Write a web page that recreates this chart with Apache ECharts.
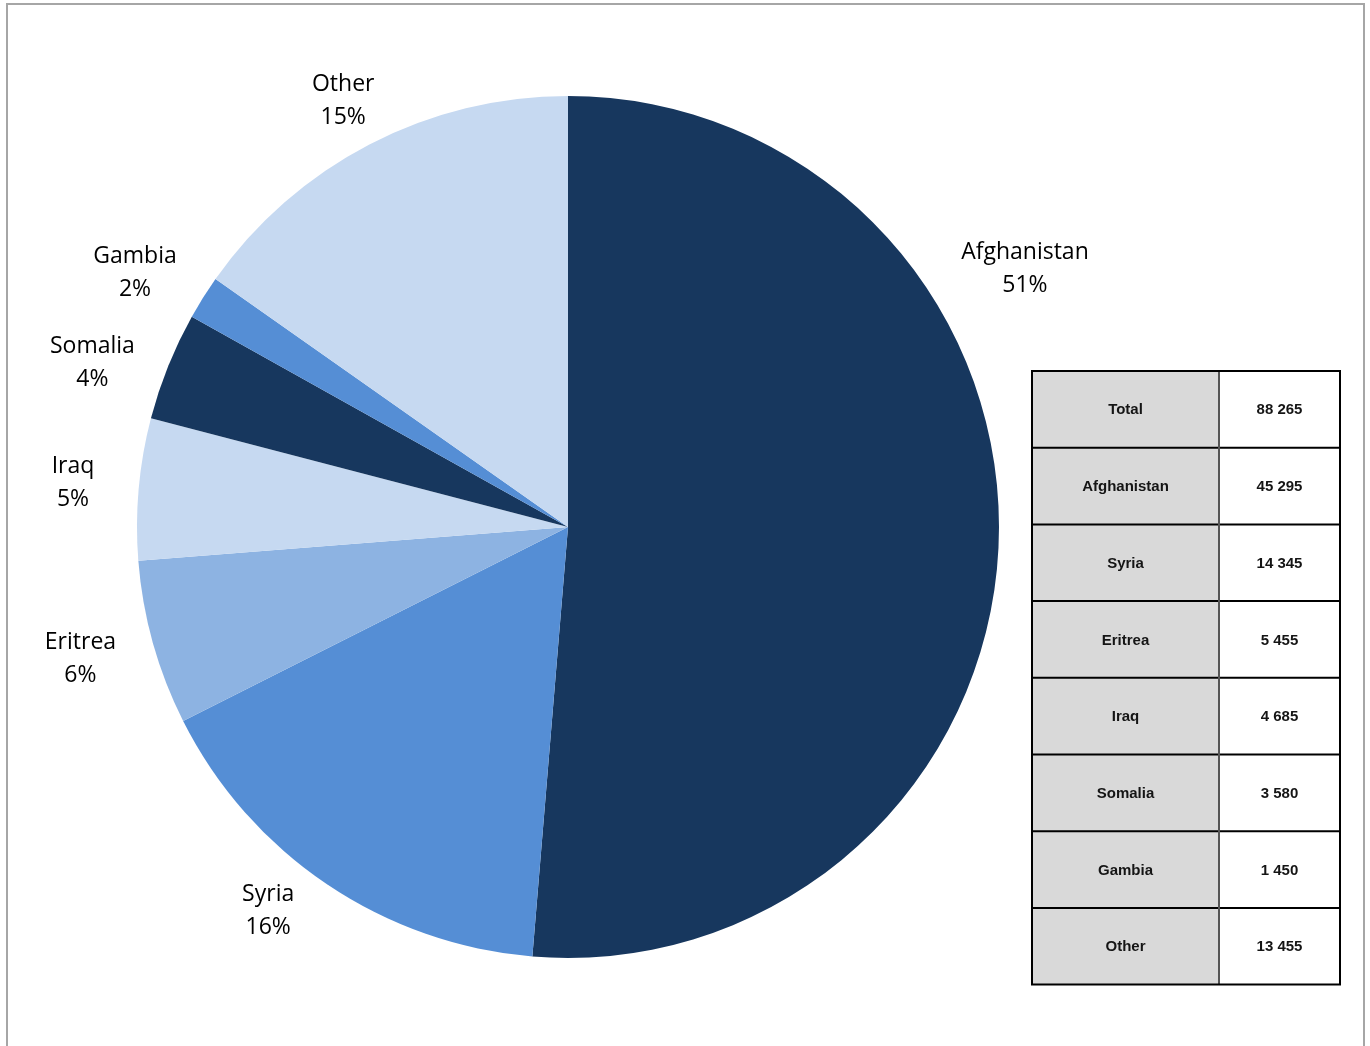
<!DOCTYPE html>
<html>
<head>
<meta charset="utf-8">
<script src="https://cdn.jsdelivr.net/npm/echarts@6/dist/echarts.min.js"></script>
<style>
  html, body { margin: 0; padding: 0; background: #fff; }
  #frame { position: absolute; left: 6px; top: 3px; width: 1359px; height: 1100px; border: 2px solid #a6a6a6; box-sizing: border-box; }
  #chart { position: absolute; left: 0; top: 0; width: 1370px; height: 1046px; }
</style>
</head>
<body>
<div id="frame"></div>
<div id="chart"></div>
<script>
const countries = ["Afghanistan", "Syria", "Eritrea", "Iraq", "Somalia", "Gambia", "Other"];
const applicants = [45295, 14345, 5455, 4685, 3580, 1450, 13455];
const totalLabel = "Total";
const sliceColors = ["#17375e", "#558ed5", "#8db3e2", "#c6d9f1", "#17375e", "#558ed5", "#c6d9f1"];

const cx = 568, cy = 527, radius = 431;
const labelRadius = 500;
// Excel "best fit" nudges labels away from the slice middle: [angle from top, distance]
const labelPlacement = {
  0: [60.5, 525],
  1: [218, 487],
  2: [254.9, 505],
  3: [275.1, 497],
  4: [289.0, 503],
  5: [300.4, 502],
  6: [332.2, 482]
};

const total = applicants.reduce((a, b) => a + b, 0);
const fmt = (v) => String(v).replace(/\B(?=(\d{3})+(?!\d))/g, " ");

function midAngle(i) {
  let before = 0;
  for (let k = 0; k < i; k++) before += applicants[k];
  return ((before + applicants[i] / 2) / total) * 360;
}

// table on the right
const tableLeft = 1032, tableRight = 1340, splitX = 1219, tableTop = 371, rowH = 76.7;
const tableRows = [[totalLabel, fmt(total)]].concat(countries.map((c, i) => [c, fmt(applicants[i])]));
const cellText = { fontFamily: "Liberation Sans, Arial", fontWeight: "bold", fontSize: 15, fill: "#151515", align: "center", verticalAlign: "middle" };
const graphics = [];
tableRows.forEach((row, r) => {
  const y = tableTop + r * rowH;
  graphics.push({ type: "rect", shape: { x: tableLeft, y: y, width: splitX - tableLeft, height: rowH }, style: { fill: "#d9d9d9" } });
  graphics.push({ type: "text", x: (tableLeft + splitX) / 2, y: y + rowH / 2 + 1, style: Object.assign({ text: row[0] }, cellText) });
  graphics.push({ type: "text", x: (splitX + tableRight) / 2, y: y + rowH / 2 + 1, style: Object.assign({ text: row[1] }, cellText) });
  if (r > 0) {
    graphics.push({ type: "line", shape: { x1: tableLeft, y1: y, x2: tableRight, y2: y }, style: { stroke: "#000", lineWidth: 2 } });
  }
});
graphics.push({ type: "line", shape: { x1: splitX, y1: tableTop, x2: splitX, y2: tableTop + rowH * tableRows.length }, style: { stroke: "#555", lineWidth: 2 } });
graphics.push({ type: "rect", shape: { x: tableLeft, y: tableTop, width: tableRight - tableLeft, height: rowH * tableRows.length }, style: { fill: null, stroke: "#000", lineWidth: 2 } });

const chart = echarts.init(document.getElementById("chart"), null, { renderer: "canvas" });
chart.setOption({
  animation: false,
  backgroundColor: "transparent",
  graphic: graphics,
  series: [{
    type: "pie",
    center: [cx, cy],
    radius: radius,
    startAngle: 90,
    clockwise: true,
    avoidLabelOverlap: false,
    data: countries.map((c, i) => ({ name: c, value: applicants[i], itemStyle: { color: sliceColors[i] } })),
    label: {
      show: true,
      position: "outside",
      formatter: (p) => p.name + "\n" + Math.round(p.percent) + "%",
      fontFamily: "Open Sans",
      fontSize: 23,
      lineHeight: 33,
      color: "#000"
    },
    labelLine: { show: false },
    labelLayout: (params) => {
      const i = params.dataIndex;
      const place = labelPlacement[i] || [midAngle(i), labelRadius];
      const a = place[0] * Math.PI / 180;
      return { x: cx + place[1] * Math.sin(a), y: cy - place[1] * Math.cos(a), align: "center", verticalAlign: "middle" };
    },
    itemStyle: { borderWidth: 0 },
    emphasis: { disabled: true }
  }]
});
</script>
</body>
</html>
